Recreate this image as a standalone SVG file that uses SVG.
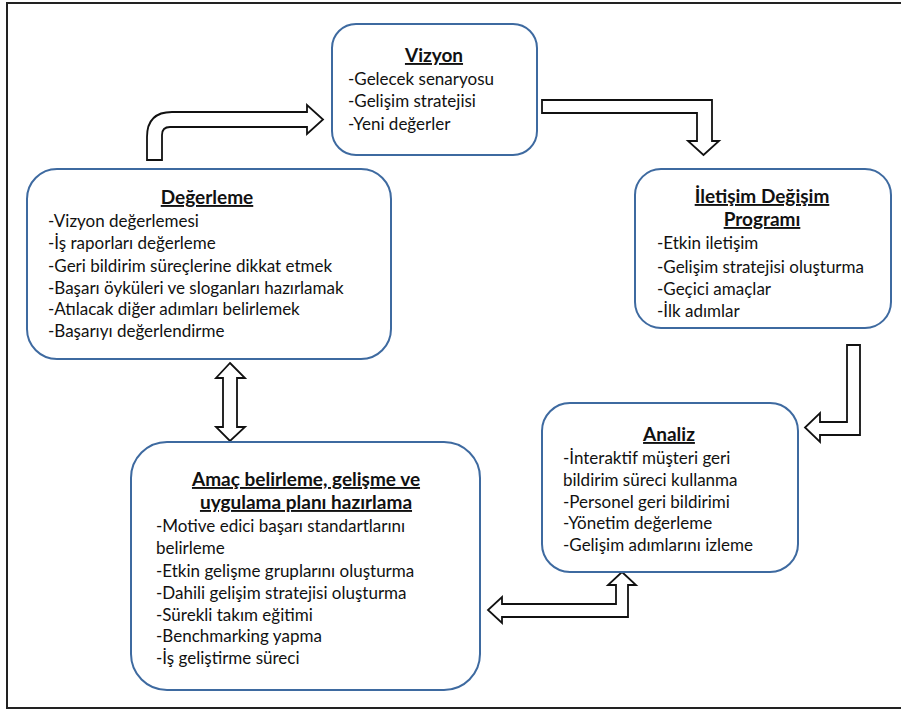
<svg xmlns="http://www.w3.org/2000/svg" width="901" height="711" viewBox="0 0 901 711">
<style>
.box{fill:#fff;stroke:#3e6aa0;stroke-width:2}
.arr{fill:#fff;stroke:#111;stroke-width:1.8;stroke-linejoin:miter}
text{font-family:Lato,"Noto Sans",sans-serif;font-size:17px;fill:#111}
.t{font-weight:bold;font-size:19px;text-anchor:middle;text-decoration:underline}
</style>
<rect x="7" y="3" width="905" height="705" fill="#fff" stroke="#222" stroke-width="2"/>
<g id="connectors">
<path class="arr" d="M147,160 L147,137 Q147,112 172,112 L307,112 L307,105 L323,119.5 L307,134 L307,127 L170,127 Q162,127 162,135 L162,160 Z"/>
<path class="arr" d="M542,100 L712,100 L712,141 L719,141 L703.5,155 L688,141 L697,141 L697,113 L542,113 Z"/>
<path class="arr" d="M847,345 L860,345 L860,435 L820,435 L820,442 L805,427.5 L820,413 L820,422 L847,422 Z"/>
<path class="arr" d="M622,572 L636,585 L628,585 L628,617 L502,617 L502,623 L488,610 L502,597 L502,604 L616,604 L616,585 L608,585 Z"/>
<path class="arr" d="M230,363 L245,378 L237,378 L237,427 L245,427 L230,441 L216,427 L223,427 L223,378 L216,378 Z"/>
</g>
<g id="vizyon">
<rect class="box" x="332" y="24" width="205" height="131" rx="24"/>
<text class="t" x="434" y="62">Vizyon</text>
<text x="348" y="85">-Gelecek senaryosu</text>
<text x="348" y="107">-Gelişim stratejisi</text>
<text x="348" y="130">-Yeni değerler</text>
</g>
<g id="iletisim">
<rect class="box" x="635" y="169" width="256" height="159" rx="26"/>
<text class="t" x="762" y="203">İletişim Değişim</text>
<text class="t" x="762" y="226">Programı</text>
<text x="657" y="249">-Etkin iletişim</text>
<text x="657" y="273">-Gelişim stratejisi oluşturma</text>
<text x="657" y="295">-Geçici amaçlar</text>
<text x="657" y="317">-İlk adımlar</text>
</g>
<g id="degerleme">
<rect class="box" x="27" y="169" width="364" height="190" rx="30"/>
<text class="t" x="207" y="204">Değerleme</text>
<text x="48" y="227">-Vizyon değerlemesi</text>
<text x="48" y="249">-İş raporları değerleme</text>
<text x="48" y="272">-Geri bildirim süreçlerine dikkat etmek</text>
<text x="48" y="294">-Başarı öyküleri ve sloganları hazırlamak</text>
<text x="48" y="315">-Atılacak diğer adımları belirlemek</text>
<text x="48" y="337">-Başarıyı değerlendirme</text>
</g>
<g id="analiz">
<rect class="box" x="542" y="403" width="256" height="169" rx="28"/>
<text class="t" x="669" y="441">Analiz</text>
<text x="563" y="464">-İnteraktif müşteri geri</text>
<text x="563" y="486">bildirim süreci kullanma</text>
<text x="563" y="508">-Personel geri bildirimi</text>
<text x="563" y="529">-Yönetim değerleme</text>
<text x="563" y="551">-Gelişim adımlarını izleme</text>
</g>
<g id="amac">
<rect class="box" x="131" y="442" width="349" height="248" rx="36"/>
<text class="t" x="306" y="486">Amaç belirleme, gelişme ve</text>
<text class="t" x="306" y="509">uygulama planı hazırlama</text>
<text x="156" y="532">-Motive edici başarı standartlarını</text>
<text x="156" y="554">belirleme</text>
<text x="156" y="577">-Etkin gelişme gruplarını oluşturma</text>
<text x="156" y="599">-Dahili gelişim stratejisi oluşturma</text>
<text x="156" y="621">-Sürekli takım eğitimi</text>
<text x="156" y="642">-Benchmarking yapma</text>
<text x="156" y="664">-İş geliştirme süreci</text>
</g>
</svg>
